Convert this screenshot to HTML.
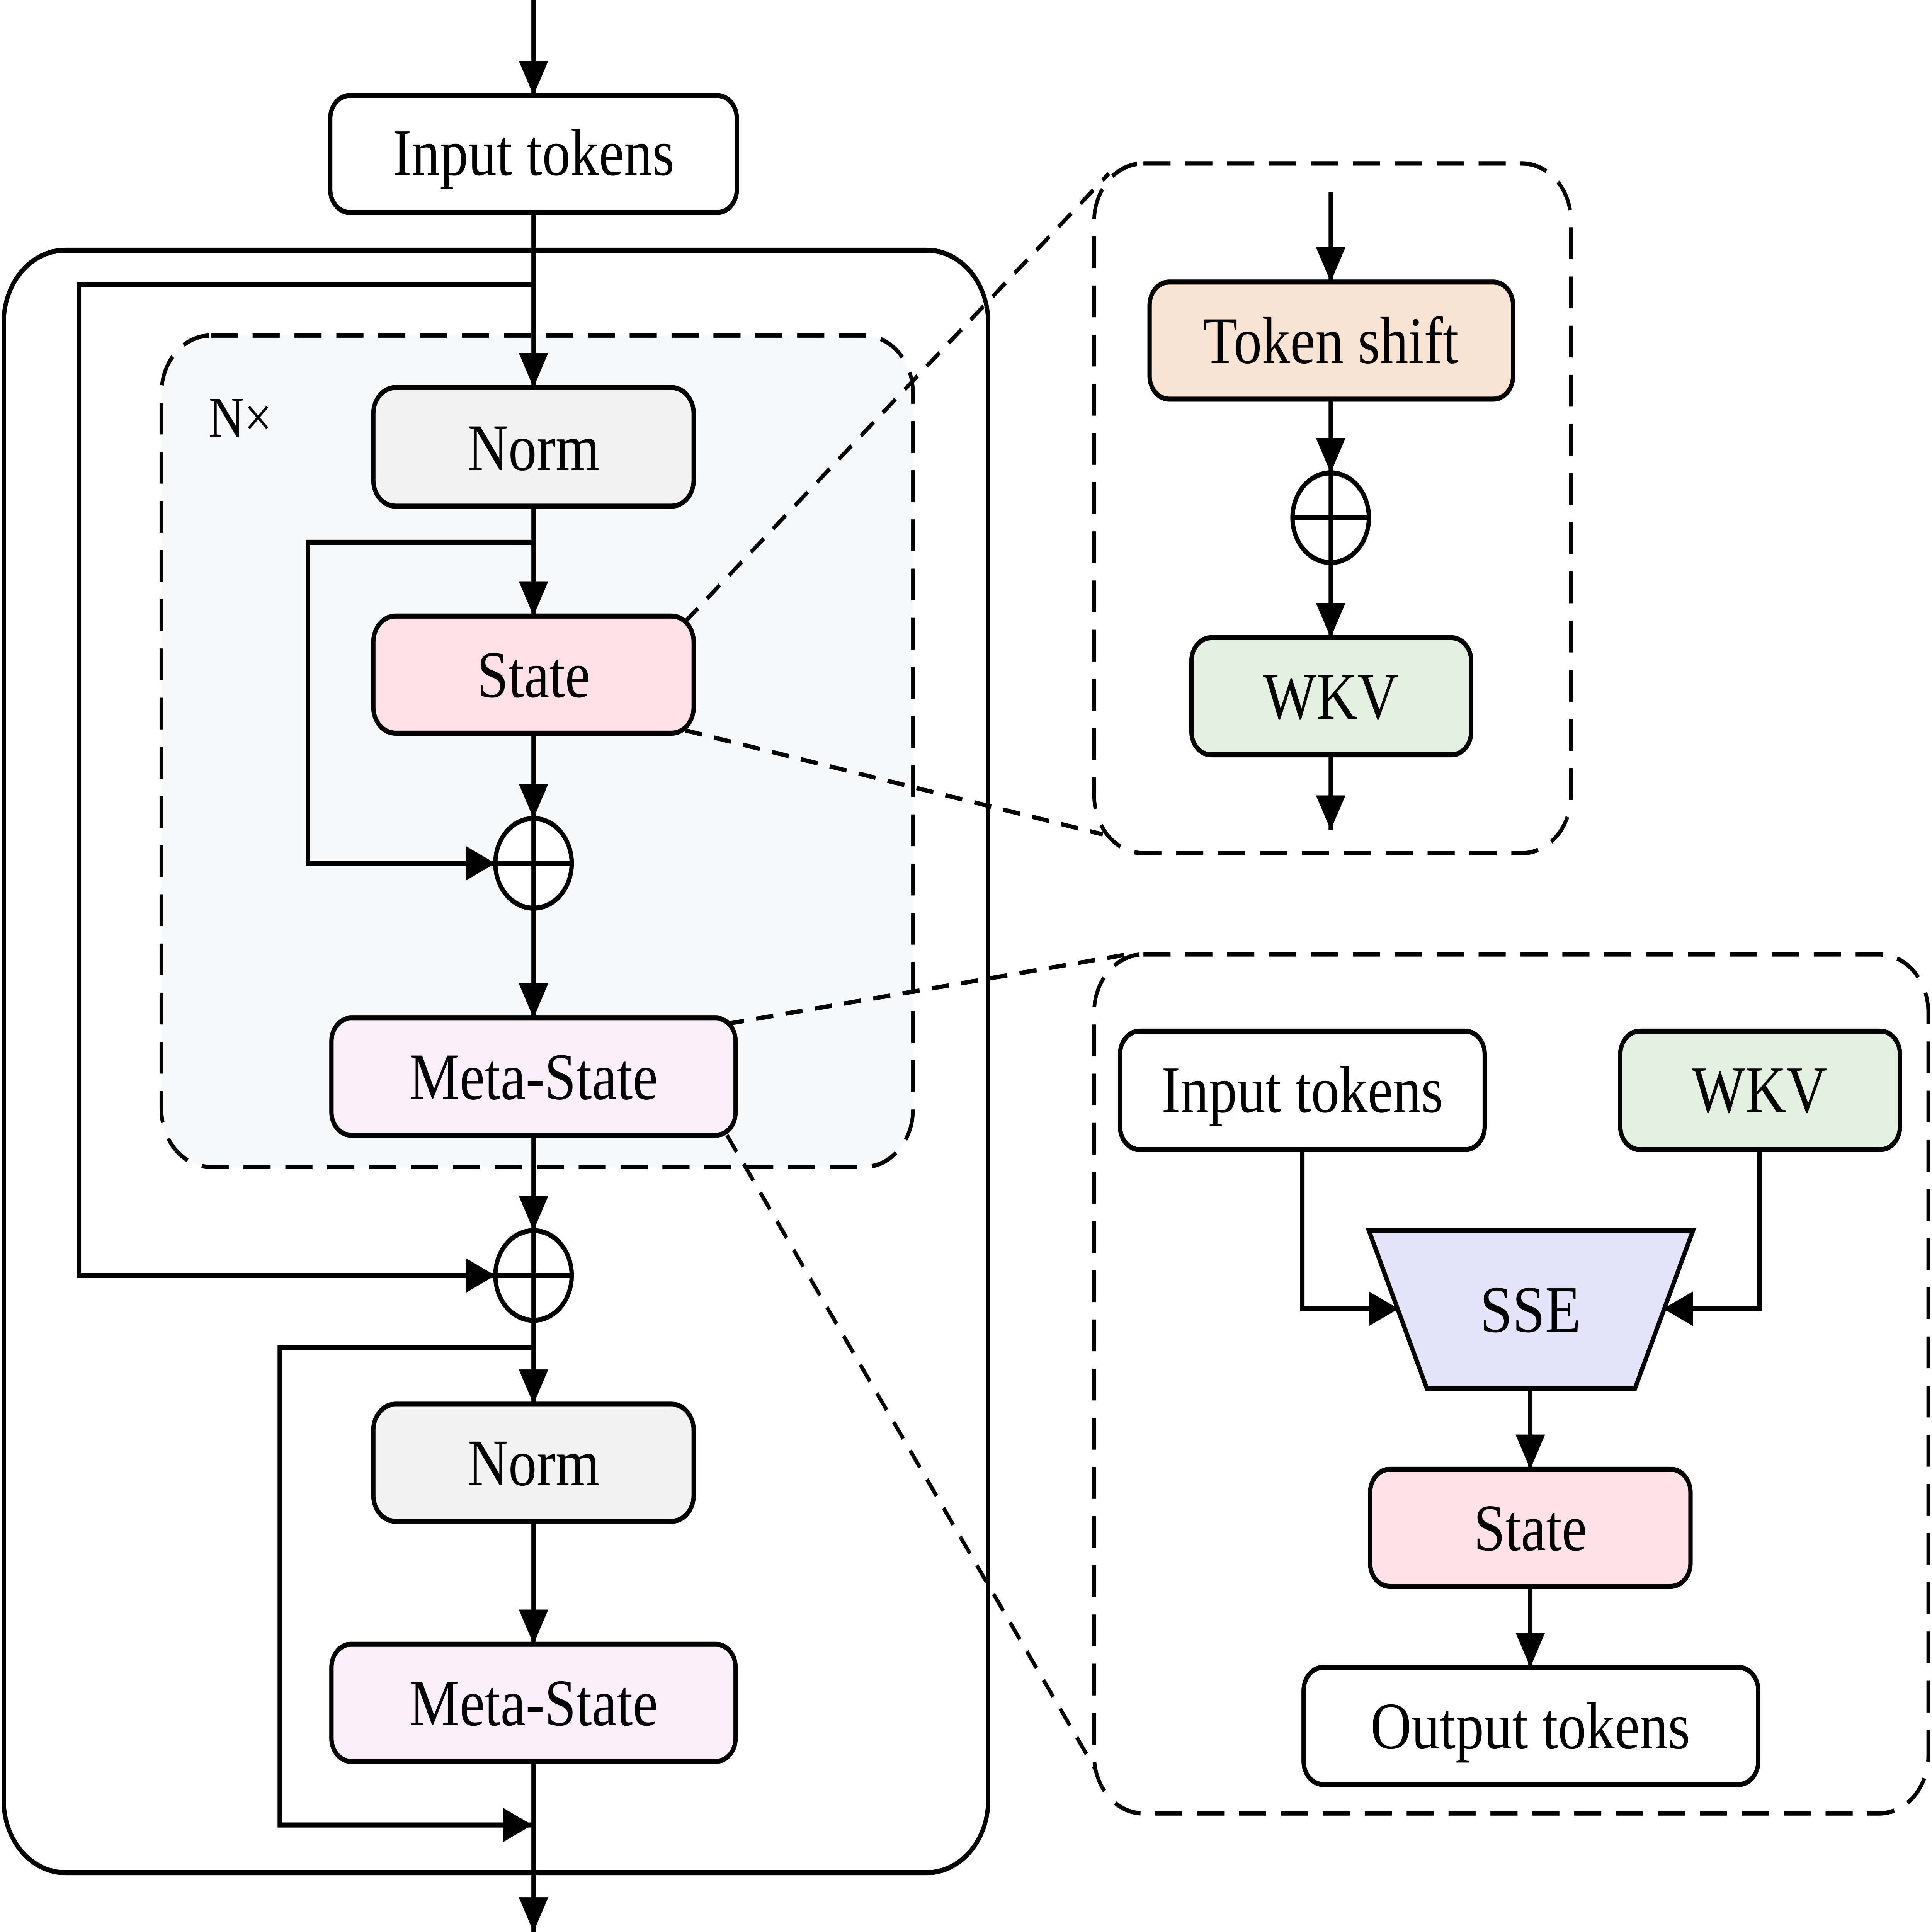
<!DOCTYPE html>
<html><head><style>html,body{margin:0;padding:0;background:#fff;overflow:hidden;width:100vw;height:100vh}svg{display:block;width:100vw;height:100vh}</style></head>
<body>
<svg xmlns="http://www.w3.org/2000/svg" viewBox="0 0 1568 1336" preserveAspectRatio="none">
<defs>
<marker id="a" viewBox="0 0 24 24" markerWidth="24" markerHeight="24" refX="24" refY="12" orient="auto" markerUnits="userSpaceOnUse">
<path d="M0,0 L24,12 L0,24 Z" fill="#000"/></marker>
</defs>
<g font-family="Liberation Serif, serif" font-size="46" text-anchor="middle">
<rect x="3" y="173" width="799" height="1122" rx="50" fill="#fff" stroke="#000" stroke-width="3.5"/>
<rect x="131" y="232" width="610" height="575" rx="40" fill="#f8f9fb" stroke="#000" stroke-width="3" stroke-dasharray="22,12"/>
<text x="195" y="302" font-size="40">N×</text>

<g fill="none" stroke="#000" stroke-width="3.5">
<line x1="433" y1="0" x2="433" y2="66" marker-end="url(#a)"/>
<line x1="433" y1="147" x2="433" y2="268" marker-end="url(#a)"/>
<polyline points="433,197 64,197 64,882 402,882" marker-end="url(#a)"/>
<line x1="433" y1="350" x2="433" y2="426" marker-end="url(#a)"/>
<polyline points="433,375 250,375 250,597 402,597" marker-end="url(#a)"/>
<line x1="433" y1="507" x2="433" y2="566" marker-end="url(#a)"/>
<line x1="433" y1="628" x2="433" y2="704" marker-end="url(#a)"/>
<line x1="433" y1="785" x2="433" y2="851" marker-end="url(#a)"/>
<line x1="433" y1="913" x2="433" y2="971" marker-end="url(#a)"/>
<polyline points="433,932 227,932 227,1262 432,1262" marker-end="url(#a)"/>
<line x1="433" y1="1052" x2="433" y2="1137" marker-end="url(#a)"/>
<line x1="433" y1="1218" x2="433" y2="1336" marker-end="url(#a)"/>
<circle cx="433" cy="597" r="31" fill="#fff"/>
<line x1="402" y1="597" x2="464" y2="597"/><line x1="433" y1="566" x2="433" y2="628"/>
<circle cx="433" cy="882" r="31" fill="#fff"/>
<line x1="402" y1="882" x2="464" y2="882"/><line x1="433" y1="851" x2="433" y2="913"/>
</g>

<rect x="268" y="66" width="330" height="81" rx="16" fill="#fff" stroke="#000" stroke-width="3.5"/>
<text x="433" y="121">Input tokens</text>
<rect x="303" y="268" width="260" height="82" rx="18" fill="#f2f2f2" stroke="#000" stroke-width="3.5"/>
<text x="433" y="325">Norm</text>
<rect x="303" y="426" width="260" height="81" rx="18" fill="#fde0e8" stroke="#000" stroke-width="3.5"/>
<text x="433" y="482">State</text>
<rect x="269" y="704" width="328" height="81" rx="16" fill="#fbeefb" stroke="#000" stroke-width="3.5"/>
<text x="433" y="760">Meta-State</text>
<rect x="303" y="971" width="260" height="81" rx="18" fill="#f2f2f2" stroke="#000" stroke-width="3.5"/>
<text x="433" y="1027">Norm</text>
<rect x="269" y="1137" width="328" height="81" rx="16" fill="#fbeefb" stroke="#000" stroke-width="3.5"/>
<text x="433" y="1193">Meta-State</text>

<g stroke="#000" stroke-width="3" stroke-dasharray="14,10" fill="none">
<line x1="556" y1="430" x2="900" y2="120"/>
<line x1="556" y1="505" x2="895" y2="577"/>
<line x1="590" y1="708" x2="915" y2="660"/>
<line x1="590" y1="785" x2="890" y2="1225"/>
</g>

<rect x="888" y="113" width="387" height="477" rx="40" fill="#fff" stroke="#000" stroke-width="3" stroke-dasharray="22,12"/>
<g fill="none" stroke="#000" stroke-width="3.5">
<line x1="1080" y1="133" x2="1080" y2="195" marker-end="url(#a)"/>
<line x1="1080" y1="276" x2="1080" y2="327" marker-end="url(#a)"/>
<line x1="1080" y1="389" x2="1080" y2="441" marker-end="url(#a)"/>
<line x1="1080" y1="522" x2="1080" y2="574" marker-end="url(#a)"/>
<circle cx="1080" cy="358" r="31" fill="#fff"/>
<line x1="1049" y1="358" x2="1111" y2="358"/><line x1="1080" y1="327" x2="1080" y2="389"/>
</g>
<rect x="933" y="195" width="295" height="81" rx="16" fill="#fbe3d2" stroke="#000" stroke-width="3.5"/>
<text x="1080" y="251">Token shift</text>
<rect x="967" y="441" width="227" height="81" rx="16" fill="#e4f0df" stroke="#000" stroke-width="3.5"/>
<text x="1080" y="497">WKV</text>

<rect x="888" y="660" width="677" height="594" rx="40" fill="#fff" stroke="#000" stroke-width="3" stroke-dasharray="22,12"/>
<g fill="none" stroke="#000" stroke-width="3.5">
<polyline points="1057,795 1057,905 1135,905" marker-end="url(#a)"/>
<polyline points="1428,795 1428,905 1350,905" marker-end="url(#a)"/>
<line x1="1242" y1="960" x2="1242" y2="1016" marker-end="url(#a)"/>
<line x1="1242" y1="1097" x2="1242" y2="1153" marker-end="url(#a)"/>
</g>
<rect x="909" y="713" width="296" height="82" rx="16" fill="#fff" stroke="#000" stroke-width="3.5"/>
<text x="1057" y="769">Input tokens</text>
<rect x="1315" y="713" width="227" height="82" rx="16" fill="#e4f0df" stroke="#000" stroke-width="3.5"/>
<text x="1428" y="769">WKV</text>
<polygon points="1111,851 1374,851 1327,960 1158,960" fill="#e5e3f9" stroke="#000" stroke-width="3.5"/>
<text x="1242" y="921" textLength="82" lengthAdjust="spacingAndGlyphs">SSE</text>
<rect x="1112" y="1016" width="260" height="81" rx="16" fill="#fde0e8" stroke="#000" stroke-width="3.5"/>
<text x="1242" y="1072">State</text>
<rect x="1058" y="1153" width="369" height="81" rx="16" fill="#fff" stroke="#000" stroke-width="3.5"/>
<text x="1242" y="1209">Output tokens</text>
</g>
</svg>
</body></html>
